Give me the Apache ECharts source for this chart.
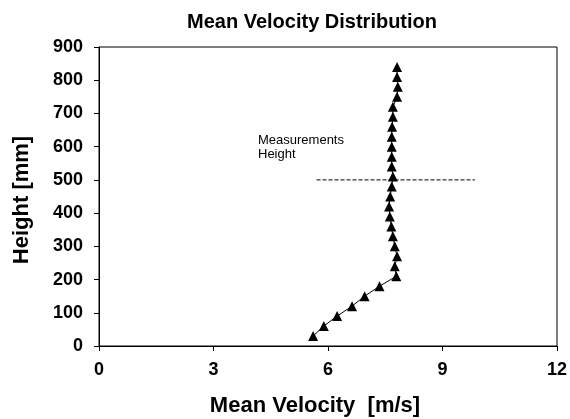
<!DOCTYPE html>
<html>
<head>
<meta charset="utf-8">
<script src="https://cdn.jsdelivr.net/npm/echarts@6/dist/echarts.min.js"></script>
<style>html,body{margin:0;padding:0;background:#fff;}#c{width:570px;height:419px;}</style>
</head>
<body>
<div id="c"></div>
<script>
var heights = [30,60,90,120,150,180,210,240,270,300,330,360,390,420,450,480,510,540,570,600,630,660,690,720,750,780,810,840];
var velocities = [5.61,5.89,6.24,6.63,6.96,7.35,7.79,7.75,7.81,7.75,7.70,7.66,7.62,7.60,7.63,7.67,7.70,7.67,7.67,7.67,7.67,7.68,7.70,7.70,7.81,7.83,7.81,7.81];
var measLineX = [5.7, 9.85];
var measLineY = [500, 500];
var xTicks = [0,3,6,9,12];
var yTicks = [0,100,200,300,400,500,600,700,800,900];

var chart = echarts.init(document.getElementById('c'), null, {renderer:'canvas'});
var ff = 'Liberation Sans, Arial, sans-serif';
chart.setOption({
  animation:false,
  backgroundColor:'#fff',
  grid:{left:99, right:12.5, top:47, bottom:73, show:true, borderColor:'#000', borderWidth:1},
  graphic:[
    {type:'text', x:312, y:22, style:{text:'Mean Velocity Distribution', font:'bold 20px '+ff, fill:'#000', textAlign:'center', textVerticalAlign:'middle'}},
    {type:'text', x:315, y:406, style:{text:'Mean Velocity  [m/s]', font:'bold 22px '+ff, fill:'#000', textAlign:'center', textVerticalAlign:'middle'}},
    {type:'text', x:22, y:200, rotation:Math.PI/2, style:{text:'Height [mm]', font:'bold 22px '+ff, fill:'#000', textAlign:'center', textVerticalAlign:'middle'}},
    {type:'text', x:258, y:133, style:{text:'Measurements\nHeight', font:'13px '+ff, fill:'#000', lineHeight:14}}
  ],
  xAxis:{type:'value', min:xTicks[0], max:xTicks[xTicks.length-1], interval:3,
    axisLine:{show:true, lineStyle:{color:'#000', width:1}},
    axisTick:{show:true, inside:false, length:5, lineStyle:{color:'#000'}},
    axisLabel:{color:'#000', fontFamily:ff, fontWeight:'bold', fontSize:18, margin:15},
    splitLine:{show:false}},
  yAxis:{type:'value', min:yTicks[0], max:yTicks[yTicks.length-1], interval:100,
    axisLine:{show:true, lineStyle:{color:'#000', width:1}},
    axisTick:{show:true, inside:false, length:5, lineStyle:{color:'#000'}},
    axisLabel:{color:'#000', fontFamily:ff, fontWeight:'bold', fontSize:18, margin:16},
    splitLine:{show:false}},
  series:[
    {type:'line', data:velocities.map(function(v,i){return [v, heights[i]];}),
      symbol:'triangle', symbolSize:10, itemStyle:{color:'#000'},
      lineStyle:{color:'#000', width:1}},
    {type:'line', data:measLineX.map(function(v,i){return [v, measLineY[i]];}),
      symbol:'none', lineStyle:{color:'#000', width:1, type:[4,2]}, z:1}
  ]
});
</script>
</body>
</html>
